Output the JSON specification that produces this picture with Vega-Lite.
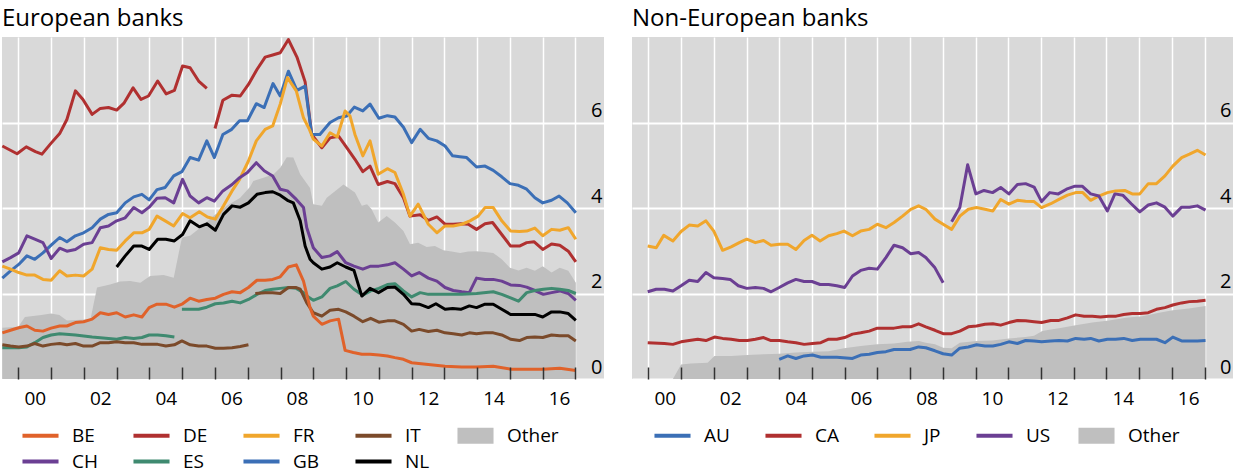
{
  "$schema": "https://vega.github.io/schema/vega-lite/v6.json",
  "padding": {"left": 0, "top": 7, "right": 0, "bottom": 0},
  "background": "white",
  "datasets": {
    "eu": [
      {"bank":"Other","part":"Other","year":1999.51,"value":1.2},{"bank":"Other","part":"Other","year":2000.0,"value":1.22},{"bank":"Other","part":"Other","year":2000.2,"value":1.45},{"bank":"Other","part":"Other","year":2000.7,"value":1.5},{"bank":"Other","part":"Other","year":2001.0,"value":1.53},{"bank":"Other","part":"Other","year":2001.25,"value":1.5},{"bank":"Other","part":"Other","year":2001.48,"value":1.37},{"bank":"Other","part":"Other","year":2002.2,"value":1.4},{"bank":"Other","part":"Other","year":2002.4,"value":2.14},{"bank":"Other","part":"Other","year":2002.8,"value":2.21},{"bank":"Other","part":"Other","year":2003.1,"value":2.28},{"bank":"Other","part":"Other","year":2003.41,"value":2.29},{"bank":"Other","part":"Other","year":2003.72,"value":2.25},{"bank":"Other","part":"Other","year":2004.02,"value":2.41},{"bank":"Other","part":"Other","year":2004.43,"value":2.43},{"bank":"Other","part":"Other","year":2004.74,"value":2.37},{"bank":"Other","part":"Other","year":2004.99,"value":3.31},{"bank":"Other","part":"Other","year":2005.24,"value":3.35},{"bank":"Other","part":"Other","year":2005.55,"value":3.54},{"bank":"Other","part":"Other","year":2005.95,"value":3.81},{"bank":"Other","part":"Other","year":2006.36,"value":4.05},{"bank":"Other","part":"Other","year":2006.77,"value":4.24},{"bank":"Other","part":"Other","year":2007.07,"value":4.5},{"bank":"Other","part":"Other","year":2007.17,"value":4.63},{"bank":"Other","part":"Other","year":2007.48,"value":4.71},{"bank":"Other","part":"Other","year":2007.79,"value":4.79},{"bank":"Other","part":"Other","year":2007.99,"value":4.94},{"bank":"Other","part":"Other","year":2008.19,"value":5.19},{"bank":"Other","part":"Other","year":2008.39,"value":5.18},{"bank":"Other","part":"Other","year":2008.6,"value":4.79},{"bank":"Other","part":"Other","year":2008.9,"value":4.47},{"bank":"Other","part":"Other","year":2009.0,"value":4.09},{"bank":"Other","part":"Other","year":2009.26,"value":4.05},{"bank":"Other","part":"Other","year":2009.41,"value":4.24},{"bank":"Other","part":"Other","year":2009.92,"value":4.55},{"bank":"Other","part":"Other","year":2010.27,"value":4.36},{"bank":"Other","part":"Other","year":2010.48,"value":4.05},{"bank":"Other","part":"Other","year":2010.64,"value":4.09},{"bank":"Other","part":"Other","year":2010.78,"value":3.97},{"bank":"Other","part":"Other","year":2010.98,"value":3.66},{"bank":"Other","part":"Other","year":2011.24,"value":3.81},{"bank":"Other","part":"Other","year":2011.49,"value":3.66},{"bank":"Other","part":"Other","year":2011.75,"value":3.46},{"bank":"Other","part":"Other","year":2011.95,"value":3.15},{"bank":"Other","part":"Other","year":2012.2,"value":3.19},{"bank":"Other","part":"Other","year":2012.46,"value":3.09},{"bank":"Other","part":"Other","year":2012.71,"value":3.11},{"bank":"Other","part":"Other","year":2012.97,"value":3.01},{"bank":"Other","part":"Other","year":2013.22,"value":2.98},{"bank":"Other","part":"Other","year":2013.48,"value":2.95},{"bank":"Other","part":"Other","year":2013.73,"value":2.98},{"bank":"Other","part":"Other","year":2013.98,"value":2.99},{"bank":"Other","part":"Other","year":2014.24,"value":2.97},{"bank":"Other","part":"Other","year":2014.49,"value":2.95},{"bank":"Other","part":"Other","year":2014.75,"value":2.8},{"bank":"Other","part":"Other","year":2015.0,"value":2.6},{"bank":"Other","part":"Other","year":2015.26,"value":2.54},{"bank":"Other","part":"Other","year":2015.51,"value":2.6},{"bank":"Other","part":"Other","year":2015.76,"value":2.53},{"bank":"Other","part":"Other","year":2016.0,"value":2.64},{"bank":"Other","part":"Other","year":2016.27,"value":2.49},{"bank":"Other","part":"Other","year":2016.52,"value":2.6},{"bank":"Other","part":"Other","year":2016.78,"value":2.53},{"bank":"Other","part":"Other","year":2017.01,"value":2.25},

      {"bank":"DE","part":"DE1","year":1999.51,"value":5.45},{"bank":"DE","part":"DE1","year":1999.96,"value":5.27},{"bank":"DE","part":"DE1","year":2000.24,"value":5.43},{"bank":"DE","part":"DE1","year":2000.52,"value":5.32},{"bank":"DE","part":"DE1","year":2000.72,"value":5.26},{"bank":"DE","part":"DE1","year":2000.98,"value":5.5},{"bank":"DE","part":"DE1","year":2001.26,"value":5.74},{"bank":"DE","part":"DE1","year":2001.48,"value":6.07},{"bank":"DE","part":"DE1","year":2001.74,"value":6.74},{"bank":"DE","part":"DE1","year":2001.97,"value":6.54},{"bank":"DE","part":"DE1","year":2002.25,"value":6.19},{"bank":"DE","part":"DE1","year":2002.5,"value":6.33},{"bank":"DE","part":"DE1","year":2002.75,"value":6.35},{"bank":"DE","part":"DE1","year":2003.0,"value":6.29},{"bank":"DE","part":"DE1","year":2003.23,"value":6.46},{"bank":"DE","part":"DE1","year":2003.5,"value":6.81},{"bank":"DE","part":"DE1","year":2003.74,"value":6.54},{"bank":"DE","part":"DE1","year":2003.97,"value":6.62},{"bank":"DE","part":"DE1","year":2004.25,"value":6.97},{"bank":"DE","part":"DE1","year":2004.51,"value":6.67},{"bank":"DE","part":"DE1","year":2004.76,"value":6.75},{"bank":"DE","part":"DE1","year":2005.01,"value":7.32},{"bank":"DE","part":"DE1","year":2005.24,"value":7.28},{"bank":"DE","part":"DE1","year":2005.5,"value":6.97},{"bank":"DE","part":"DE1","year":2005.75,"value":6.8},
      {"bank":"DE","part":"DE2","year":2006.0,"value":5.86},{"bank":"DE","part":"DE2","year":2006.24,"value":6.52},{"bank":"DE","part":"DE2","year":2006.52,"value":6.64},{"bank":"DE","part":"DE2","year":2006.77,"value":6.62},{"bank":"DE","part":"DE2","year":2007.02,"value":6.89},{"bank":"DE","part":"DE2","year":2007.28,"value":7.24},{"bank":"DE","part":"DE2","year":2007.53,"value":7.53},{"bank":"DE","part":"DE2","year":2007.76,"value":7.58},{"bank":"DE","part":"DE2","year":2007.99,"value":7.63},{"bank":"DE","part":"DE2","year":2008.24,"value":7.94},{"bank":"DE","part":"DE2","year":2008.5,"value":7.53},{"bank":"DE","part":"DE2","year":2008.75,"value":6.95},{"bank":"DE","part":"DE2","year":2008.95,"value":5.72},{"bank":"DE","part":"DE2","year":2009.26,"value":5.41},{"bank":"DE","part":"DE2","year":2009.51,"value":5.64},{"bank":"DE","part":"DE2","year":2009.77,"value":5.68},{"bank":"DE","part":"DE2","year":2010.02,"value":5.41},{"bank":"DE","part":"DE2","year":2010.27,"value":5.14},{"bank":"DE","part":"DE2","year":2010.51,"value":4.85},{"bank":"DE","part":"DE2","year":2010.73,"value":4.98},{"bank":"DE","part":"DE2","year":2010.98,"value":4.55},{"bank":"DE","part":"DE2","year":2011.26,"value":4.62},{"bank":"DE","part":"DE2","year":2011.49,"value":4.57},{"bank":"DE","part":"DE2","year":2011.75,"value":4.24},{"bank":"DE","part":"DE2","year":2011.95,"value":3.81},{"bank":"DE","part":"DE2","year":2012.26,"value":3.84},{"bank":"DE","part":"DE2","year":2012.51,"value":3.71},{"bank":"DE","part":"DE2","year":2012.77,"value":3.79},{"bank":"DE","part":"DE2","year":2013.02,"value":3.62},{"bank":"DE","part":"DE2","year":2013.27,"value":3.62},{"bank":"DE","part":"DE2","year":2013.5,"value":3.63},{"bank":"DE","part":"DE2","year":2013.73,"value":3.62},{"bank":"DE","part":"DE2","year":2013.98,"value":3.5},{"bank":"DE","part":"DE2","year":2014.24,"value":3.63},{"bank":"DE","part":"DE2","year":2014.47,"value":3.66},{"bank":"DE","part":"DE2","year":2014.75,"value":3.38},{"bank":"DE","part":"DE2","year":2015.02,"value":3.11},{"bank":"DE","part":"DE2","year":2015.29,"value":3.11},{"bank":"DE","part":"DE2","year":2015.51,"value":3.19},{"bank":"DE","part":"DE2","year":2015.74,"value":3.21},{"bank":"DE","part":"DE2","year":2016.0,"value":3.03},{"bank":"DE","part":"DE2","year":2016.27,"value":3.16},{"bank":"DE","part":"DE2","year":2016.52,"value":3.13},{"bank":"DE","part":"DE2","year":2016.78,"value":2.99},{"bank":"DE","part":"DE2","year":2017.01,"value":2.74},

      {"bank":"GB","part":"GB","year":1999.51,"value":2.36},{"bank":"GB","part":"GB","year":1999.76,"value":2.53},{"bank":"GB","part":"GB","year":2000.01,"value":2.68},{"bank":"GB","part":"GB","year":2000.26,"value":2.88},{"bank":"GB","part":"GB","year":2000.5,"value":2.8},{"bank":"GB","part":"GB","year":2000.75,"value":2.95},{"bank":"GB","part":"GB","year":2001.0,"value":3.13},{"bank":"GB","part":"GB","year":2001.26,"value":3.31},{"bank":"GB","part":"GB","year":2001.48,"value":3.21},{"bank":"GB","part":"GB","year":2001.74,"value":3.35},{"bank":"GB","part":"GB","year":2001.99,"value":3.42},{"bank":"GB","part":"GB","year":2002.25,"value":3.54},{"bank":"GB","part":"GB","year":2002.5,"value":3.74},{"bank":"GB","part":"GB","year":2002.75,"value":3.85},{"bank":"GB","part":"GB","year":2003.0,"value":3.89},{"bank":"GB","part":"GB","year":2003.26,"value":4.12},{"bank":"GB","part":"GB","year":2003.52,"value":4.26},{"bank":"GB","part":"GB","year":2003.77,"value":4.32},{"bank":"GB","part":"GB","year":2003.99,"value":4.19},{"bank":"GB","part":"GB","year":2004.23,"value":4.43},{"bank":"GB","part":"GB","year":2004.48,"value":4.48},{"bank":"GB","part":"GB","year":2004.74,"value":4.75},{"bank":"GB","part":"GB","year":2004.99,"value":4.85},{"bank":"GB","part":"GB","year":2005.24,"value":5.18},{"bank":"GB","part":"GB","year":2005.5,"value":5.12},{"bank":"GB","part":"GB","year":2005.75,"value":5.57},{"bank":"GB","part":"GB","year":2005.98,"value":5.18},{"bank":"GB","part":"GB","year":2006.24,"value":5.72},{"bank":"GB","part":"GB","year":2006.51,"value":5.84},{"bank":"GB","part":"GB","year":2006.75,"value":6.04},{"bank":"GB","part":"GB","year":2006.99,"value":6.04},{"bank":"GB","part":"GB","year":2007.26,"value":6.44},{"bank":"GB","part":"GB","year":2007.5,"value":6.35},{"bank":"GB","part":"GB","year":2007.77,"value":6.91},{"bank":"GB","part":"GB","year":2007.99,"value":6.62},{"bank":"GB","part":"GB","year":2008.24,"value":7.2},{"bank":"GB","part":"GB","year":2008.5,"value":6.75},{"bank":"GB","part":"GB","year":2008.75,"value":6.85},{"bank":"GB","part":"GB","year":2008.95,"value":5.72},{"bank":"GB","part":"GB","year":2009.2,"value":5.72},{"bank":"GB","part":"GB","year":2009.51,"value":6.0},{"bank":"GB","part":"GB","year":2009.77,"value":6.11},{"bank":"GB","part":"GB","year":2010.02,"value":6.15},{"bank":"GB","part":"GB","year":2010.25,"value":6.36},{"bank":"GB","part":"GB","year":2010.51,"value":6.27},{"bank":"GB","part":"GB","year":2010.73,"value":6.43},{"bank":"GB","part":"GB","year":2011.0,"value":6.1},{"bank":"GB","part":"GB","year":2011.26,"value":6.16},{"bank":"GB","part":"GB","year":2011.49,"value":6.13},{"bank":"GB","part":"GB","year":2011.75,"value":5.89},{"bank":"GB","part":"GB","year":2012.0,"value":5.53},{"bank":"GB","part":"GB","year":2012.26,"value":5.84},{"bank":"GB","part":"GB","year":2012.51,"value":5.63},{"bank":"GB","part":"GB","year":2012.77,"value":5.57},{"bank":"GB","part":"GB","year":2013.02,"value":5.45},{"bank":"GB","part":"GB","year":2013.25,"value":5.22},{"bank":"GB","part":"GB","year":2013.47,"value":5.2},{"bank":"GB","part":"GB","year":2013.68,"value":5.18},{"bank":"GB","part":"GB","year":2013.98,"value":4.96},{"bank":"GB","part":"GB","year":2014.24,"value":4.98},{"bank":"GB","part":"GB","year":2014.49,"value":4.88},{"bank":"GB","part":"GB","year":2014.75,"value":4.73},{"bank":"GB","part":"GB","year":2015.0,"value":4.57},{"bank":"GB","part":"GB","year":2015.26,"value":4.53},{"bank":"GB","part":"GB","year":2015.51,"value":4.44},{"bank":"GB","part":"GB","year":2015.76,"value":4.24},{"bank":"GB","part":"GB","year":2016.0,"value":4.12},{"bank":"GB","part":"GB","year":2016.27,"value":4.18},{"bank":"GB","part":"GB","year":2016.5,"value":4.28},{"bank":"GB","part":"GB","year":2016.75,"value":4.12},{"bank":"GB","part":"GB","year":2017.01,"value":3.89},

      {"bank":"FR","part":"FR","year":1999.51,"value":2.64},{"bank":"FR","part":"FR","year":1999.76,"value":2.57},{"bank":"FR","part":"FR","year":2000.01,"value":2.49},{"bank":"FR","part":"FR","year":2000.26,"value":2.43},{"bank":"FR","part":"FR","year":2000.5,"value":2.43},{"bank":"FR","part":"FR","year":2000.75,"value":2.33},{"bank":"FR","part":"FR","year":2001.0,"value":2.31},{"bank":"FR","part":"FR","year":2001.26,"value":2.53},{"bank":"FR","part":"FR","year":2001.48,"value":2.41},{"bank":"FR","part":"FR","year":2001.74,"value":2.43},{"bank":"FR","part":"FR","year":2001.99,"value":2.41},{"bank":"FR","part":"FR","year":2002.25,"value":2.57},{"bank":"FR","part":"FR","year":2002.5,"value":3.07},{"bank":"FR","part":"FR","year":2002.75,"value":3.03},{"bank":"FR","part":"FR","year":2003.0,"value":3.01},{"bank":"FR","part":"FR","year":2003.26,"value":3.23},{"bank":"FR","part":"FR","year":2003.52,"value":3.42},{"bank":"FR","part":"FR","year":2003.77,"value":3.42},{"bank":"FR","part":"FR","year":2003.99,"value":3.5},{"bank":"FR","part":"FR","year":2004.23,"value":3.81},{"bank":"FR","part":"FR","year":2004.48,"value":3.7},{"bank":"FR","part":"FR","year":2004.74,"value":3.58},{"bank":"FR","part":"FR","year":2005.01,"value":3.87},{"bank":"FR","part":"FR","year":2005.24,"value":3.77},{"bank":"FR","part":"FR","year":2005.52,"value":3.91},{"bank":"FR","part":"FR","year":2005.77,"value":3.79},{"bank":"FR","part":"FR","year":2006.01,"value":3.74},{"bank":"FR","part":"FR","year":2006.26,"value":4.05},{"bank":"FR","part":"FR","year":2006.52,"value":4.4},{"bank":"FR","part":"FR","year":2006.75,"value":4.67},{"bank":"FR","part":"FR","year":2007.02,"value":5.1},{"bank":"FR","part":"FR","year":2007.26,"value":5.57},{"bank":"FR","part":"FR","year":2007.53,"value":5.84},{"bank":"FR","part":"FR","year":2007.76,"value":5.92},{"bank":"FR","part":"FR","year":2007.99,"value":6.43},{"bank":"FR","part":"FR","year":2008.21,"value":7.05},{"bank":"FR","part":"FR","year":2008.48,"value":6.74},{"bank":"FR","part":"FR","year":2008.7,"value":6.11},{"bank":"FR","part":"FR","year":2008.88,"value":5.84},{"bank":"FR","part":"FR","year":2009.0,"value":5.61},{"bank":"FR","part":"FR","year":2009.26,"value":5.45},{"bank":"FR","part":"FR","year":2009.51,"value":5.76},{"bank":"FR","part":"FR","year":2009.73,"value":5.66},{"bank":"FR","part":"FR","year":2009.97,"value":6.27},{"bank":"FR","part":"FR","year":2010.12,"value":6.15},{"bank":"FR","part":"FR","year":2010.27,"value":5.72},{"bank":"FR","part":"FR","year":2010.51,"value":5.22},{"bank":"FR","part":"FR","year":2010.73,"value":5.57},{"bank":"FR","part":"FR","year":2010.98,"value":4.79},{"bank":"FR","part":"FR","year":2011.26,"value":4.92},{"bank":"FR","part":"FR","year":2011.49,"value":4.83},{"bank":"FR","part":"FR","year":2011.75,"value":4.32},{"bank":"FR","part":"FR","year":2011.95,"value":3.81},{"bank":"FR","part":"FR","year":2012.2,"value":4.09},{"bank":"FR","part":"FR","year":2012.51,"value":3.62},{"bank":"FR","part":"FR","year":2012.77,"value":3.42},{"bank":"FR","part":"FR","year":2013.02,"value":3.58},{"bank":"FR","part":"FR","year":2013.27,"value":3.58},{"bank":"FR","part":"FR","year":2013.53,"value":3.62},{"bank":"FR","part":"FR","year":2013.78,"value":3.7},{"bank":"FR","part":"FR","year":2014.03,"value":3.81},{"bank":"FR","part":"FR","year":2014.24,"value":4.01},{"bank":"FR","part":"FR","year":2014.49,"value":4.01},{"bank":"FR","part":"FR","year":2014.75,"value":3.7},{"bank":"FR","part":"FR","year":2015.02,"value":3.46},{"bank":"FR","part":"FR","year":2015.29,"value":3.45},{"bank":"FR","part":"FR","year":2015.51,"value":3.46},{"bank":"FR","part":"FR","year":2015.76,"value":3.53},{"bank":"FR","part":"FR","year":2016.0,"value":3.35},{"bank":"FR","part":"FR","year":2016.27,"value":3.5},{"bank":"FR","part":"FR","year":2016.52,"value":3.48},{"bank":"FR","part":"FR","year":2016.78,"value":3.54},{"bank":"FR","part":"FR","year":2017.01,"value":3.27},

      {"bank":"CH","part":"CH","year":1999.51,"value":2.74},{"bank":"CH","part":"CH","year":1999.76,"value":2.84},{"bank":"CH","part":"CH","year":2000.01,"value":2.95},{"bank":"CH","part":"CH","year":2000.26,"value":3.35},{"bank":"CH","part":"CH","year":2000.5,"value":3.27},{"bank":"CH","part":"CH","year":2000.75,"value":3.19},{"bank":"CH","part":"CH","year":2001.0,"value":2.82},{"bank":"CH","part":"CH","year":2001.26,"value":3.06},{"bank":"CH","part":"CH","year":2001.48,"value":2.99},{"bank":"CH","part":"CH","year":2001.74,"value":3.03},{"bank":"CH","part":"CH","year":2001.99,"value":3.15},{"bank":"CH","part":"CH","year":2002.25,"value":3.19},{"bank":"CH","part":"CH","year":2002.5,"value":3.54},{"bank":"CH","part":"CH","year":2002.75,"value":3.58},{"bank":"CH","part":"CH","year":2003.0,"value":3.7},{"bank":"CH","part":"CH","year":2003.26,"value":3.77},{"bank":"CH","part":"CH","year":2003.52,"value":4.01},{"bank":"CH","part":"CH","year":2003.77,"value":3.89},{"bank":"CH","part":"CH","year":2003.99,"value":4.02},{"bank":"CH","part":"CH","year":2004.23,"value":4.23},{"bank":"CH","part":"CH","year":2004.48,"value":4.24},{"bank":"CH","part":"CH","year":2004.74,"value":4.12},{"bank":"CH","part":"CH","year":2005.01,"value":4.67},{"bank":"CH","part":"CH","year":2005.24,"value":4.28},{"bank":"CH","part":"CH","year":2005.5,"value":4.12},{"bank":"CH","part":"CH","year":2005.75,"value":4.24},{"bank":"CH","part":"CH","year":2005.98,"value":4.16},{"bank":"CH","part":"CH","year":2006.24,"value":4.4},{"bank":"CH","part":"CH","year":2006.52,"value":4.55},{"bank":"CH","part":"CH","year":2006.75,"value":4.71},{"bank":"CH","part":"CH","year":2006.99,"value":4.83},{"bank":"CH","part":"CH","year":2007.26,"value":5.06},{"bank":"CH","part":"CH","year":2007.5,"value":4.87},{"bank":"CH","part":"CH","year":2007.76,"value":4.75},{"bank":"CH","part":"CH","year":2007.99,"value":4.44},{"bank":"CH","part":"CH","year":2008.21,"value":4.4},{"bank":"CH","part":"CH","year":2008.48,"value":4.2},{"bank":"CH","part":"CH","year":2008.7,"value":4.01},{"bank":"CH","part":"CH","year":2008.8,"value":3.54},{"bank":"CH","part":"CH","year":2009.0,"value":3.07},{"bank":"CH","part":"CH","year":2009.26,"value":2.84},{"bank":"CH","part":"CH","year":2009.51,"value":2.88},{"bank":"CH","part":"CH","year":2009.73,"value":2.98},{"bank":"CH","part":"CH","year":2009.99,"value":2.72},{"bank":"CH","part":"CH","year":2010.24,"value":2.64},{"bank":"CH","part":"CH","year":2010.51,"value":2.57},{"bank":"CH","part":"CH","year":2010.75,"value":2.64},{"bank":"CH","part":"CH","year":2011.0,"value":2.64},{"bank":"CH","part":"CH","year":2011.26,"value":2.67},{"bank":"CH","part":"CH","year":2011.49,"value":2.72},{"bank":"CH","part":"CH","year":2011.75,"value":2.57},{"bank":"CH","part":"CH","year":2012.0,"value":2.41},{"bank":"CH","part":"CH","year":2012.23,"value":2.49},{"bank":"CH","part":"CH","year":2012.51,"value":2.36},{"bank":"CH","part":"CH","year":2012.77,"value":2.29},{"bank":"CH","part":"CH","year":2013.02,"value":2.14},{"bank":"CH","part":"CH","year":2013.27,"value":2.07},{"bank":"CH","part":"CH","year":2013.53,"value":2.04},{"bank":"CH","part":"CH","year":2013.76,"value":2.02},{"bank":"CH","part":"CH","year":2013.98,"value":2.36},{"bank":"CH","part":"CH","year":2014.24,"value":2.33},{"bank":"CH","part":"CH","year":2014.49,"value":2.33},{"bank":"CH","part":"CH","year":2014.75,"value":2.29},{"bank":"CH","part":"CH","year":2015.02,"value":2.2},{"bank":"CH","part":"CH","year":2015.29,"value":2.19},{"bank":"CH","part":"CH","year":2015.51,"value":2.15},{"bank":"CH","part":"CH","year":2015.76,"value":2.07},{"bank":"CH","part":"CH","year":2016.02,"value":1.98},{"bank":"CH","part":"CH","year":2016.27,"value":2.02},{"bank":"CH","part":"CH","year":2016.52,"value":2.06},{"bank":"CH","part":"CH","year":2016.78,"value":2.0},{"bank":"CH","part":"CH","year":2017.01,"value":1.84},

      {"bank":"ES","part":"ES1","year":1999.51,"value":0.73},{"bank":"ES","part":"ES1","year":2000.01,"value":0.73},{"bank":"ES","part":"ES1","year":2000.26,"value":0.75},{"bank":"ES","part":"ES1","year":2000.5,"value":0.85},{"bank":"ES","part":"ES1","year":2000.75,"value":0.97},{"bank":"ES","part":"ES1","year":2001.0,"value":1.03},{"bank":"ES","part":"ES1","year":2001.26,"value":1.06},{"bank":"ES","part":"ES1","year":2001.74,"value":1.03},{"bank":"ES","part":"ES1","year":2002.25,"value":0.98},{"bank":"ES","part":"ES1","year":2002.75,"value":0.95},{"bank":"ES","part":"ES1","year":2003.0,"value":0.93},{"bank":"ES","part":"ES1","year":2003.26,"value":0.97},{"bank":"ES","part":"ES1","year":2003.52,"value":0.95},{"bank":"ES","part":"ES1","year":2003.77,"value":0.97},{"bank":"ES","part":"ES1","year":2003.99,"value":1.03},{"bank":"ES","part":"ES1","year":2004.25,"value":1.03},{"bank":"ES","part":"ES1","year":2004.5,"value":1.01},{"bank":"ES","part":"ES1","year":2004.76,"value":0.98},
      {"bank":"ES","part":"ES2","year":2004.99,"value":1.63},{"bank":"ES","part":"ES2","year":2005.5,"value":1.63},{"bank":"ES","part":"ES2","year":2005.75,"value":1.68},{"bank":"ES","part":"ES2","year":2006.01,"value":1.76},{"bank":"ES","part":"ES2","year":2006.26,"value":1.78},{"bank":"ES","part":"ES2","year":2006.52,"value":1.82},{"bank":"ES","part":"ES2","year":2006.77,"value":1.78},{"bank":"ES","part":"ES2","year":2007.02,"value":1.86},{"bank":"ES","part":"ES2","year":2007.28,"value":1.98},{"bank":"ES","part":"ES2","year":2007.53,"value":2.07},{"bank":"ES","part":"ES2","year":2007.76,"value":2.1},{"bank":"ES","part":"ES2","year":2007.99,"value":2.12},{"bank":"ES","part":"ES2","year":2008.24,"value":2.14},{"bank":"ES","part":"ES2","year":2008.48,"value":2.12},{"bank":"ES","part":"ES2","year":2008.7,"value":2.02},{"bank":"ES","part":"ES2","year":2008.8,"value":1.94},{"bank":"ES","part":"ES2","year":2009.0,"value":1.84},{"bank":"ES","part":"ES2","year":2009.26,"value":1.92},{"bank":"ES","part":"ES2","year":2009.51,"value":2.12},{"bank":"ES","part":"ES2","year":2009.73,"value":2.18},{"bank":"ES","part":"ES2","year":2009.99,"value":2.28},{"bank":"ES","part":"ES2","year":2010.24,"value":2.1},{"bank":"ES","part":"ES2","year":2010.51,"value":1.96},{"bank":"ES","part":"ES2","year":2010.75,"value":2.06},{"bank":"ES","part":"ES2","year":2011.0,"value":2.12},{"bank":"ES","part":"ES2","year":2011.26,"value":2.21},{"bank":"ES","part":"ES2","year":2011.49,"value":2.23},{"bank":"ES","part":"ES2","year":2011.75,"value":2.06},{"bank":"ES","part":"ES2","year":2012.0,"value":1.92},{"bank":"ES","part":"ES2","year":2012.26,"value":2.02},{"bank":"ES","part":"ES2","year":2012.51,"value":1.98},{"bank":"ES","part":"ES2","year":2013.02,"value":1.98},{"bank":"ES","part":"ES2","year":2013.53,"value":1.98},{"bank":"ES","part":"ES2","year":2013.98,"value":2.0},{"bank":"ES","part":"ES2","year":2014.49,"value":2.04},{"bank":"ES","part":"ES2","year":2014.75,"value":1.98},{"bank":"ES","part":"ES2","year":2015.02,"value":1.9},{"bank":"ES","part":"ES2","year":2015.26,"value":1.82},{"bank":"ES","part":"ES2","year":2015.51,"value":2.02},{"bank":"ES","part":"ES2","year":2015.76,"value":2.07},{"bank":"ES","part":"ES2","year":2016.02,"value":2.1},{"bank":"ES","part":"ES2","year":2016.27,"value":2.12},{"bank":"ES","part":"ES2","year":2016.52,"value":2.1},{"bank":"ES","part":"ES2","year":2016.78,"value":2.07},{"bank":"ES","part":"ES2","year":2017.01,"value":2.0},

      {"bank":"IT","part":"IT1","year":1999.51,"value":0.8},{"bank":"IT","part":"IT1","year":1999.76,"value":0.77},{"bank":"IT","part":"IT1","year":2000.01,"value":0.75},{"bank":"IT","part":"IT1","year":2000.26,"value":0.77},{"bank":"IT","part":"IT1","year":2000.5,"value":0.83},{"bank":"IT","part":"IT1","year":2000.75,"value":0.77},{"bank":"IT","part":"IT1","year":2001.0,"value":0.81},{"bank":"IT","part":"IT1","year":2001.26,"value":0.83},{"bank":"IT","part":"IT1","year":2001.48,"value":0.8},{"bank":"IT","part":"IT1","year":2001.74,"value":0.83},{"bank":"IT","part":"IT1","year":2001.99,"value":0.77},{"bank":"IT","part":"IT1","year":2002.25,"value":0.77},{"bank":"IT","part":"IT1","year":2002.5,"value":0.85},{"bank":"IT","part":"IT1","year":2002.75,"value":0.85},{"bank":"IT","part":"IT1","year":2003.0,"value":0.87},{"bank":"IT","part":"IT1","year":2003.26,"value":0.85},{"bank":"IT","part":"IT1","year":2003.52,"value":0.85},{"bank":"IT","part":"IT1","year":2003.77,"value":0.81},{"bank":"IT","part":"IT1","year":2003.99,"value":0.81},{"bank":"IT","part":"IT1","year":2004.25,"value":0.81},{"bank":"IT","part":"IT1","year":2004.5,"value":0.77},{"bank":"IT","part":"IT1","year":2004.76,"value":0.8},{"bank":"IT","part":"IT1","year":2004.99,"value":0.89},{"bank":"IT","part":"IT1","year":2005.24,"value":0.8},{"bank":"IT","part":"IT1","year":2005.5,"value":0.77},{"bank":"IT","part":"IT1","year":2005.75,"value":0.77},{"bank":"IT","part":"IT1","year":2006.01,"value":0.72},{"bank":"IT","part":"IT1","year":2006.26,"value":0.72},{"bank":"IT","part":"IT1","year":2006.52,"value":0.73},{"bank":"IT","part":"IT1","year":2006.77,"value":0.76},{"bank":"IT","part":"IT1","year":2007.02,"value":0.8},
      {"bank":"IT","part":"IT2","year":2007.23,"value":2.0},{"bank":"IT","part":"IT2","year":2007.53,"value":2.02},{"bank":"IT","part":"IT2","year":2007.76,"value":2.02},{"bank":"IT","part":"IT2","year":2007.99,"value":2.0},{"bank":"IT","part":"IT2","year":2008.24,"value":2.14},{"bank":"IT","part":"IT2","year":2008.48,"value":2.14},{"bank":"IT","part":"IT2","year":2008.6,"value":2.1},{"bank":"IT","part":"IT2","year":2008.8,"value":1.78},{"bank":"IT","part":"IT2","year":2009.0,"value":1.55},{"bank":"IT","part":"IT2","year":2009.26,"value":1.47},{"bank":"IT","part":"IT2","year":2009.51,"value":1.61},{"bank":"IT","part":"IT2","year":2009.77,"value":1.63},{"bank":"IT","part":"IT2","year":2009.99,"value":1.57},{"bank":"IT","part":"IT2","year":2010.24,"value":1.47},{"bank":"IT","part":"IT2","year":2010.51,"value":1.34},{"bank":"IT","part":"IT2","year":2010.75,"value":1.42},{"bank":"IT","part":"IT2","year":2011.0,"value":1.33},{"bank":"IT","part":"IT2","year":2011.26,"value":1.36},{"bank":"IT","part":"IT2","year":2011.49,"value":1.36},{"bank":"IT","part":"IT2","year":2011.75,"value":1.28},{"bank":"IT","part":"IT2","year":2012.0,"value":1.12},{"bank":"IT","part":"IT2","year":2012.23,"value":1.16},{"bank":"IT","part":"IT2","year":2012.51,"value":1.11},{"bank":"IT","part":"IT2","year":2012.77,"value":1.14},{"bank":"IT","part":"IT2","year":2013.02,"value":1.08},{"bank":"IT","part":"IT2","year":2013.27,"value":1.06},{"bank":"IT","part":"IT2","year":2013.53,"value":1.03},{"bank":"IT","part":"IT2","year":2013.76,"value":1.08},{"bank":"IT","part":"IT2","year":2013.98,"value":1.06},{"bank":"IT","part":"IT2","year":2014.24,"value":1.08},{"bank":"IT","part":"IT2","year":2014.49,"value":1.08},{"bank":"IT","part":"IT2","year":2014.75,"value":1.03},{"bank":"IT","part":"IT2","year":2015.02,"value":0.93},{"bank":"IT","part":"IT2","year":2015.29,"value":0.9},{"bank":"IT","part":"IT2","year":2015.51,"value":0.97},{"bank":"IT","part":"IT2","year":2015.76,"value":0.98},{"bank":"IT","part":"IT2","year":2016.0,"value":0.97},{"bank":"IT","part":"IT2","year":2016.27,"value":1.03},{"bank":"IT","part":"IT2","year":2016.52,"value":1.01},{"bank":"IT","part":"IT2","year":2016.78,"value":1.01},{"bank":"IT","part":"IT2","year":2017.01,"value":0.89},

      {"bank":"BE","part":"BE","year":1999.51,"value":1.08},{"bank":"BE","part":"BE","year":1999.76,"value":1.14},{"bank":"BE","part":"BE","year":2000.01,"value":1.2},{"bank":"BE","part":"BE","year":2000.26,"value":1.24},{"bank":"BE","part":"BE","year":2000.5,"value":1.14},{"bank":"BE","part":"BE","year":2000.75,"value":1.12},{"bank":"BE","part":"BE","year":2001.0,"value":1.19},{"bank":"BE","part":"BE","year":2001.26,"value":1.24},{"bank":"BE","part":"BE","year":2001.48,"value":1.24},{"bank":"BE","part":"BE","year":2001.74,"value":1.32},{"bank":"BE","part":"BE","year":2001.99,"value":1.34},{"bank":"BE","part":"BE","year":2002.25,"value":1.4},{"bank":"BE","part":"BE","year":2002.5,"value":1.55},{"bank":"BE","part":"BE","year":2002.75,"value":1.51},{"bank":"BE","part":"BE","year":2003.0,"value":1.55},{"bank":"BE","part":"BE","year":2003.26,"value":1.45},{"bank":"BE","part":"BE","year":2003.52,"value":1.5},{"bank":"BE","part":"BE","year":2003.77,"value":1.45},{"bank":"BE","part":"BE","year":2003.99,"value":1.67},{"bank":"BE","part":"BE","year":2004.23,"value":1.75},{"bank":"BE","part":"BE","year":2004.5,"value":1.75},{"bank":"BE","part":"BE","year":2004.76,"value":1.68},{"bank":"BE","part":"BE","year":2005.01,"value":1.76},{"bank":"BE","part":"BE","year":2005.24,"value":1.89},{"bank":"BE","part":"BE","year":2005.5,"value":1.82},{"bank":"BE","part":"BE","year":2005.75,"value":1.86},{"bank":"BE","part":"BE","year":2006.01,"value":1.89},{"bank":"BE","part":"BE","year":2006.26,"value":1.98},{"bank":"BE","part":"BE","year":2006.52,"value":2.04},{"bank":"BE","part":"BE","year":2006.77,"value":2.02},{"bank":"BE","part":"BE","year":2007.02,"value":2.14},{"bank":"BE","part":"BE","year":2007.28,"value":2.31},{"bank":"BE","part":"BE","year":2007.53,"value":2.31},{"bank":"BE","part":"BE","year":2007.76,"value":2.33},{"bank":"BE","part":"BE","year":2007.99,"value":2.39},{"bank":"BE","part":"BE","year":2008.24,"value":2.62},{"bank":"BE","part":"BE","year":2008.48,"value":2.67},{"bank":"BE","part":"BE","year":2008.7,"value":2.29},{"bank":"BE","part":"BE","year":2008.8,"value":1.98},{"bank":"BE","part":"BE","year":2008.9,"value":1.67},{"bank":"BE","part":"BE","year":2009.0,"value":1.47},{"bank":"BE","part":"BE","year":2009.26,"value":1.28},{"bank":"BE","part":"BE","year":2009.51,"value":1.36},{"bank":"BE","part":"BE","year":2009.77,"value":1.4},{"bank":"BE","part":"BE","year":2009.97,"value":0.67},{"bank":"BE","part":"BE","year":2010.22,"value":0.62},{"bank":"BE","part":"BE","year":2010.48,"value":0.58},{"bank":"BE","part":"BE","year":2010.73,"value":0.58},{"bank":"BE","part":"BE","year":2011.0,"value":0.56},{"bank":"BE","part":"BE","year":2011.26,"value":0.54},{"bank":"BE","part":"BE","year":2011.49,"value":0.5},{"bank":"BE","part":"BE","year":2011.75,"value":0.46},{"bank":"BE","part":"BE","year":2012.0,"value":0.38},{"bank":"BE","part":"BE","year":2012.51,"value":0.34},{"bank":"BE","part":"BE","year":2013.02,"value":0.3},{"bank":"BE","part":"BE","year":2013.53,"value":0.28},{"bank":"BE","part":"BE","year":2013.98,"value":0.28},{"bank":"BE","part":"BE","year":2014.49,"value":0.3},{"bank":"BE","part":"BE","year":2015.02,"value":0.23},{"bank":"BE","part":"BE","year":2015.51,"value":0.23},{"bank":"BE","part":"BE","year":2016.0,"value":0.23},{"bank":"BE","part":"BE","year":2016.52,"value":0.25},{"bank":"BE","part":"BE","year":2017.01,"value":0.2},

      {"bank":"NL","part":"NL","year":2003.0,"value":2.62},{"bank":"NL","part":"NL","year":2003.26,"value":2.88},{"bank":"NL","part":"NL","year":2003.52,"value":3.11},{"bank":"NL","part":"NL","year":2003.77,"value":3.11},{"bank":"NL","part":"NL","year":2003.99,"value":3.03},{"bank":"NL","part":"NL","year":2004.25,"value":3.27},{"bank":"NL","part":"NL","year":2004.5,"value":3.27},{"bank":"NL","part":"NL","year":2004.76,"value":3.23},{"bank":"NL","part":"NL","year":2005.01,"value":3.38},{"bank":"NL","part":"NL","year":2005.24,"value":3.7},{"bank":"NL","part":"NL","year":2005.52,"value":3.56},{"bank":"NL","part":"NL","year":2005.75,"value":3.63},{"bank":"NL","part":"NL","year":2006.01,"value":3.48},{"bank":"NL","part":"NL","year":2006.26,"value":3.85},{"bank":"NL","part":"NL","year":2006.52,"value":4.05},{"bank":"NL","part":"NL","year":2006.77,"value":4.02},{"bank":"NL","part":"NL","year":2007.02,"value":4.12},{"bank":"NL","part":"NL","year":2007.28,"value":4.32},{"bank":"NL","part":"NL","year":2007.53,"value":4.36},{"bank":"NL","part":"NL","year":2007.76,"value":4.38},{"bank":"NL","part":"NL","year":2007.99,"value":4.3},{"bank":"NL","part":"NL","year":2008.21,"value":4.18},{"bank":"NL","part":"NL","year":2008.39,"value":4.12},{"bank":"NL","part":"NL","year":2008.6,"value":3.7},{"bank":"NL","part":"NL","year":2008.75,"value":3.11},{"bank":"NL","part":"NL","year":2008.9,"value":2.8},{"bank":"NL","part":"NL","year":2009.0,"value":2.72},{"bank":"NL","part":"NL","year":2009.26,"value":2.57},{"bank":"NL","part":"NL","year":2009.51,"value":2.62},{"bank":"NL","part":"NL","year":2009.73,"value":2.72},{"bank":"NL","part":"NL","year":2009.99,"value":2.62},{"bank":"NL","part":"NL","year":2010.24,"value":2.54},{"bank":"NL","part":"NL","year":2010.48,"value":1.94},{"bank":"NL","part":"NL","year":2010.73,"value":2.12},{"bank":"NL","part":"NL","year":2010.99,"value":2.02},{"bank":"NL","part":"NL","year":2011.26,"value":2.14},{"bank":"NL","part":"NL","year":2011.49,"value":2.15},{"bank":"NL","part":"NL","year":2011.75,"value":1.98},{"bank":"NL","part":"NL","year":2012.0,"value":1.76},{"bank":"NL","part":"NL","year":2012.23,"value":1.75},{"bank":"NL","part":"NL","year":2012.51,"value":1.67},{"bank":"NL","part":"NL","year":2012.74,"value":1.76},{"bank":"NL","part":"NL","year":2013.02,"value":1.63},{"bank":"NL","part":"NL","year":2013.25,"value":1.65},{"bank":"NL","part":"NL","year":2013.5,"value":1.63},{"bank":"NL","part":"NL","year":2013.76,"value":1.71},{"bank":"NL","part":"NL","year":2013.98,"value":1.67},{"bank":"NL","part":"NL","year":2014.24,"value":1.75},{"bank":"NL","part":"NL","year":2014.49,"value":1.75},{"bank":"NL","part":"NL","year":2014.75,"value":1.63},{"bank":"NL","part":"NL","year":2015.02,"value":1.51},{"bank":"NL","part":"NL","year":2015.26,"value":1.51},{"bank":"NL","part":"NL","year":2015.51,"value":1.51},{"bank":"NL","part":"NL","year":2015.76,"value":1.51},{"bank":"NL","part":"NL","year":2016.0,"value":1.45},{"bank":"NL","part":"NL","year":2016.27,"value":1.57},{"bank":"NL","part":"NL","year":2016.52,"value":1.57},{"bank":"NL","part":"NL","year":2016.78,"value":1.53},{"bank":"NL","part":"NL","year":2017.01,"value":1.37}
    ],
    "noneu": [
      {"bank":"Other","part":"Other","year":2000.75,"value":0},{"bank":"Other","part":"Other","year":2001.0,"value":0.34},{"bank":"Other","part":"Other","year":2001.3,"value":0.36},{"bank":"Other","part":"Other","year":2001.81,"value":0.38},{"bank":"Other","part":"Other","year":2002.02,"value":0.54},{"bank":"Other","part":"Other","year":2002.53,"value":0.54},{"bank":"Other","part":"Other","year":2003.03,"value":0.56},{"bank":"Other","part":"Other","year":2003.54,"value":0.58},{"bank":"Other","part":"Other","year":2004.0,"value":0.59},{"bank":"Other","part":"Other","year":2004.51,"value":0.62},{"bank":"Other","part":"Other","year":2005.02,"value":0.64},{"bank":"Other","part":"Other","year":2005.51,"value":0.65},{"bank":"Other","part":"Other","year":2005.98,"value":0.72},{"bank":"Other","part":"Other","year":2006.49,"value":0.77},{"bank":"Other","part":"Other","year":2007.0,"value":0.81},{"bank":"Other","part":"Other","year":2007.51,"value":0.83},{"bank":"Other","part":"Other","year":2007.92,"value":0.87},{"bank":"Other","part":"Other","year":2008.27,"value":0.89},{"bank":"Other","part":"Other","year":2008.48,"value":0.85},{"bank":"Other","part":"Other","year":2008.76,"value":0.81},{"bank":"Other","part":"Other","year":2009.01,"value":0.73},{"bank":"Other","part":"Other","year":2009.27,"value":0.72},{"bank":"Other","part":"Other","year":2009.52,"value":0.85},{"bank":"Other","part":"Other","year":2010.03,"value":0.89},{"bank":"Other","part":"Other","year":2010.52,"value":0.9},{"bank":"Other","part":"Other","year":2011.02,"value":0.95},{"bank":"Other","part":"Other","year":2011.53,"value":0.98},{"bank":"Other","part":"Other","year":2011.79,"value":1.01},{"bank":"Other","part":"Other","year":2012.04,"value":1.12},{"bank":"Other","part":"Other","year":2012.3,"value":1.16},{"bank":"Other","part":"Other","year":2012.55,"value":1.19},{"bank":"Other","part":"Other","year":2013.06,"value":1.26},{"bank":"Other","part":"Other","year":2013.57,"value":1.32},{"bank":"Other","part":"Other","year":2014.08,"value":1.37},{"bank":"Other","part":"Other","year":2014.59,"value":1.43},{"bank":"Other","part":"Other","year":2015.1,"value":1.47},{"bank":"Other","part":"Other","year":2015.61,"value":1.55},{"bank":"Other","part":"Other","year":2016.03,"value":1.61},{"bank":"Other","part":"Other","year":2016.52,"value":1.65},{"bank":"Other","part":"Other","year":2017.03,"value":1.71},

      {"bank":"CA","part":"CA","year":1999.98,"value":0.85},{"bank":"CA","part":"CA","year":2000.49,"value":0.83},{"bank":"CA","part":"CA","year":2000.75,"value":0.81},{"bank":"CA","part":"CA","year":2001.0,"value":0.87},{"bank":"CA","part":"CA","year":2001.25,"value":0.9},{"bank":"CA","part":"CA","year":2001.51,"value":0.93},{"bank":"CA","part":"CA","year":2001.76,"value":0.9},{"bank":"CA","part":"CA","year":2002.02,"value":0.98},{"bank":"CA","part":"CA","year":2002.27,"value":0.95},{"bank":"CA","part":"CA","year":2002.53,"value":0.93},{"bank":"CA","part":"CA","year":2002.78,"value":0.9},{"bank":"CA","part":"CA","year":2003.03,"value":0.9},{"bank":"CA","part":"CA","year":2003.27,"value":0.93},{"bank":"CA","part":"CA","year":2003.52,"value":0.97},{"bank":"CA","part":"CA","year":2003.75,"value":0.9},{"bank":"CA","part":"CA","year":2004.0,"value":0.9},{"bank":"CA","part":"CA","year":2004.26,"value":0.87},{"bank":"CA","part":"CA","year":2004.51,"value":0.85},{"bank":"CA","part":"CA","year":2004.76,"value":0.81},{"bank":"CA","part":"CA","year":2005.02,"value":0.83},{"bank":"CA","part":"CA","year":2005.27,"value":0.85},{"bank":"CA","part":"CA","year":2005.51,"value":0.93},{"bank":"CA","part":"CA","year":2005.76,"value":0.93},{"bank":"CA","part":"CA","year":2006.0,"value":0.97},{"bank":"CA","part":"CA","year":2006.24,"value":1.05},{"bank":"CA","part":"CA","year":2006.49,"value":1.08},{"bank":"CA","part":"CA","year":2006.75,"value":1.12},{"bank":"CA","part":"CA","year":2007.0,"value":1.19},{"bank":"CA","part":"CA","year":2007.26,"value":1.19},{"bank":"CA","part":"CA","year":2007.51,"value":1.19},{"bank":"CA","part":"CA","year":2007.77,"value":1.22},{"bank":"CA","part":"CA","year":2008.02,"value":1.22},{"bank":"CA","part":"CA","year":2008.26,"value":1.29},{"bank":"CA","part":"CA","year":2008.48,"value":1.22},{"bank":"CA","part":"CA","year":2008.76,"value":1.14},{"bank":"CA","part":"CA","year":2009.01,"value":1.06},{"bank":"CA","part":"CA","year":2009.27,"value":1.06},{"bank":"CA","part":"CA","year":2009.52,"value":1.12},{"bank":"CA","part":"CA","year":2009.78,"value":1.22},{"bank":"CA","part":"CA","year":2010.03,"value":1.24},{"bank":"CA","part":"CA","year":2010.29,"value":1.28},{"bank":"CA","part":"CA","year":2010.53,"value":1.29},{"bank":"CA","part":"CA","year":2010.77,"value":1.26},{"bank":"CA","part":"CA","year":2011.02,"value":1.32},{"bank":"CA","part":"CA","year":2011.28,"value":1.37},{"bank":"CA","part":"CA","year":2011.53,"value":1.36},{"bank":"CA","part":"CA","year":2011.79,"value":1.34},{"bank":"CA","part":"CA","year":2012.02,"value":1.32},{"bank":"CA","part":"CA","year":2012.3,"value":1.37},{"bank":"CA","part":"CA","year":2012.55,"value":1.37},{"bank":"CA","part":"CA","year":2012.81,"value":1.43},{"bank":"CA","part":"CA","year":2013.06,"value":1.5},{"bank":"CA","part":"CA","year":2013.32,"value":1.47},{"bank":"CA","part":"CA","year":2013.57,"value":1.47},{"bank":"CA","part":"CA","year":2013.82,"value":1.45},{"bank":"CA","part":"CA","year":2014.06,"value":1.47},{"bank":"CA","part":"CA","year":2014.3,"value":1.47},{"bank":"CA","part":"CA","year":2014.53,"value":1.51},{"bank":"CA","part":"CA","year":2014.79,"value":1.53},{"bank":"CA","part":"CA","year":2015.04,"value":1.53},{"bank":"CA","part":"CA","year":2015.28,"value":1.55},{"bank":"CA","part":"CA","year":2015.53,"value":1.63},{"bank":"CA","part":"CA","year":2015.79,"value":1.67},{"bank":"CA","part":"CA","year":2016.03,"value":1.73},{"bank":"CA","part":"CA","year":2016.3,"value":1.78},{"bank":"CA","part":"CA","year":2016.54,"value":1.81},{"bank":"CA","part":"CA","year":2016.78,"value":1.82},{"bank":"CA","part":"CA","year":2017.03,"value":1.84},

      {"bank":"AU","part":"AU","year":2004.0,"value":0.46},{"bank":"AU","part":"AU","year":2004.26,"value":0.54},{"bank":"AU","part":"AU","year":2004.51,"value":0.48},{"bank":"AU","part":"AU","year":2004.76,"value":0.54},{"bank":"AU","part":"AU","year":2005.02,"value":0.56},{"bank":"AU","part":"AU","year":2005.27,"value":0.51},{"bank":"AU","part":"AU","year":2005.76,"value":0.51},{"bank":"AU","part":"AU","year":2006.24,"value":0.48},{"bank":"AU","part":"AU","year":2006.49,"value":0.56},{"bank":"AU","part":"AU","year":2006.75,"value":0.58},{"bank":"AU","part":"AU","year":2007.0,"value":0.62},{"bank":"AU","part":"AU","year":2007.26,"value":0.64},{"bank":"AU","part":"AU","year":2007.51,"value":0.69},{"bank":"AU","part":"AU","year":2008.0,"value":0.69},{"bank":"AU","part":"AU","year":2008.26,"value":0.75},{"bank":"AU","part":"AU","year":2008.48,"value":0.73},{"bank":"AU","part":"AU","year":2008.76,"value":0.66},{"bank":"AU","part":"AU","year":2009.01,"value":0.59},{"bank":"AU","part":"AU","year":2009.27,"value":0.56},{"bank":"AU","part":"AU","year":2009.52,"value":0.72},{"bank":"AU","part":"AU","year":2009.78,"value":0.75},{"bank":"AU","part":"AU","year":2010.03,"value":0.8},{"bank":"AU","part":"AU","year":2010.29,"value":0.77},{"bank":"AU","part":"AU","year":2010.53,"value":0.77},{"bank":"AU","part":"AU","year":2010.77,"value":0.81},{"bank":"AU","part":"AU","year":2011.02,"value":0.87},{"bank":"AU","part":"AU","year":2011.28,"value":0.83},{"bank":"AU","part":"AU","year":2011.53,"value":0.9},{"bank":"AU","part":"AU","year":2011.79,"value":0.89},{"bank":"AU","part":"AU","year":2012.02,"value":0.87},{"bank":"AU","part":"AU","year":2012.3,"value":0.89},{"bank":"AU","part":"AU","year":2012.55,"value":0.9},{"bank":"AU","part":"AU","year":2012.81,"value":0.89},{"bank":"AU","part":"AU","year":2013.06,"value":0.95},{"bank":"AU","part":"AU","year":2013.32,"value":0.93},{"bank":"AU","part":"AU","year":2013.52,"value":0.95},{"bank":"AU","part":"AU","year":2013.77,"value":0.89},{"bank":"AU","part":"AU","year":2014.03,"value":0.93},{"bank":"AU","part":"AU","year":2014.28,"value":0.93},{"bank":"AU","part":"AU","year":2014.53,"value":0.95},{"bank":"AU","part":"AU","year":2014.79,"value":0.9},{"bank":"AU","part":"AU","year":2015.04,"value":0.93},{"bank":"AU","part":"AU","year":2015.28,"value":0.93},{"bank":"AU","part":"AU","year":2015.53,"value":0.93},{"bank":"AU","part":"AU","year":2015.79,"value":0.85},{"bank":"AU","part":"AU","year":2016.03,"value":0.98},{"bank":"AU","part":"AU","year":2016.3,"value":0.89},{"bank":"AU","part":"AU","year":2016.54,"value":0.89},{"bank":"AU","part":"AU","year":2016.78,"value":0.89},{"bank":"AU","part":"AU","year":2017.03,"value":0.9},

      {"bank":"JP","part":"JP","year":1999.98,"value":3.11},{"bank":"JP","part":"JP","year":2000.24,"value":3.07},{"bank":"JP","part":"JP","year":2000.47,"value":3.36},{"bank":"JP","part":"JP","year":2000.75,"value":3.23},{"bank":"JP","part":"JP","year":2001.0,"value":3.45},{"bank":"JP","part":"JP","year":2001.25,"value":3.6},{"bank":"JP","part":"JP","year":2001.51,"value":3.58},{"bank":"JP","part":"JP","year":2001.76,"value":3.7},{"bank":"JP","part":"JP","year":2002.0,"value":3.46},{"bank":"JP","part":"JP","year":2002.27,"value":3.01},{"bank":"JP","part":"JP","year":2002.53,"value":3.09},{"bank":"JP","part":"JP","year":2002.78,"value":3.19},{"bank":"JP","part":"JP","year":2003.01,"value":3.27},{"bank":"JP","part":"JP","year":2003.27,"value":3.19},{"bank":"JP","part":"JP","year":2003.52,"value":3.24},{"bank":"JP","part":"JP","year":2003.75,"value":3.13},{"bank":"JP","part":"JP","year":2004.0,"value":3.15},{"bank":"JP","part":"JP","year":2004.26,"value":3.15},{"bank":"JP","part":"JP","year":2004.51,"value":3.03},{"bank":"JP","part":"JP","year":2004.76,"value":3.24},{"bank":"JP","part":"JP","year":2005.0,"value":3.36},{"bank":"JP","part":"JP","year":2005.25,"value":3.23},{"bank":"JP","part":"JP","year":2005.51,"value":3.35},{"bank":"JP","part":"JP","year":2005.76,"value":3.4},{"bank":"JP","part":"JP","year":2005.98,"value":3.46},{"bank":"JP","part":"JP","year":2006.24,"value":3.35},{"bank":"JP","part":"JP","year":2006.49,"value":3.46},{"bank":"JP","part":"JP","year":2006.75,"value":3.5},{"bank":"JP","part":"JP","year":2007.0,"value":3.62},{"bank":"JP","part":"JP","year":2007.26,"value":3.54},{"bank":"JP","part":"JP","year":2007.51,"value":3.66},{"bank":"JP","part":"JP","year":2007.77,"value":3.81},{"bank":"JP","part":"JP","year":2008.02,"value":3.97},{"bank":"JP","part":"JP","year":2008.26,"value":4.05},{"bank":"JP","part":"JP","year":2008.48,"value":3.97},{"bank":"JP","part":"JP","year":2008.76,"value":3.74},{"bank":"JP","part":"JP","year":2009.01,"value":3.62},{"bank":"JP","part":"JP","year":2009.27,"value":3.5},{"bank":"JP","part":"JP","year":2009.52,"value":3.81},{"bank":"JP","part":"JP","year":2009.78,"value":3.97},{"bank":"JP","part":"JP","year":2010.03,"value":4.01},{"bank":"JP","part":"JP","year":2010.29,"value":3.97},{"bank":"JP","part":"JP","year":2010.53,"value":3.93},{"bank":"JP","part":"JP","year":2010.77,"value":4.2},{"bank":"JP","part":"JP","year":2011.02,"value":4.09},{"bank":"JP","part":"JP","year":2011.28,"value":4.18},{"bank":"JP","part":"JP","year":2011.53,"value":4.16},{"bank":"JP","part":"JP","year":2011.79,"value":4.15},{"bank":"JP","part":"JP","year":2012.02,"value":4.01},{"bank":"JP","part":"JP","year":2012.3,"value":4.1},{"bank":"JP","part":"JP","year":2012.55,"value":4.2},{"bank":"JP","part":"JP","year":2012.81,"value":4.3},{"bank":"JP","part":"JP","year":2013.06,"value":4.36},{"bank":"JP","part":"JP","year":2013.28,"value":4.36},{"bank":"JP","part":"JP","year":2013.52,"value":4.18},{"bank":"JP","part":"JP","year":2013.77,"value":4.28},{"bank":"JP","part":"JP","year":2014.03,"value":4.36},{"bank":"JP","part":"JP","year":2014.28,"value":4.4},{"bank":"JP","part":"JP","year":2014.56,"value":4.41},{"bank":"JP","part":"JP","year":2014.79,"value":4.33},{"bank":"JP","part":"JP","year":2015.02,"value":4.33},{"bank":"JP","part":"JP","year":2015.28,"value":4.57},{"bank":"JP","part":"JP","year":2015.53,"value":4.57},{"bank":"JP","part":"JP","year":2015.79,"value":4.75},{"bank":"JP","part":"JP","year":2016.03,"value":4.98},{"bank":"JP","part":"JP","year":2016.3,"value":5.18},{"bank":"JP","part":"JP","year":2016.54,"value":5.26},{"bank":"JP","part":"JP","year":2016.78,"value":5.35},{"bank":"JP","part":"JP","year":2017.03,"value":5.24},

      {"bank":"US","part":"US1","year":1999.98,"value":2.04},{"bank":"US","part":"US1","year":2000.24,"value":2.1},{"bank":"US","part":"US1","year":2000.49,"value":2.1},{"bank":"US","part":"US1","year":2000.75,"value":2.06},{"bank":"US","part":"US1","year":2001.0,"value":2.18},{"bank":"US","part":"US1","year":2001.25,"value":2.31},{"bank":"US","part":"US1","year":2001.51,"value":2.28},{"bank":"US","part":"US1","year":2001.76,"value":2.49},{"bank":"US","part":"US1","year":2002.0,"value":2.37},{"bank":"US","part":"US1","year":2002.27,"value":2.35},{"bank":"US","part":"US1","year":2002.5,"value":2.33},{"bank":"US","part":"US1","year":2002.75,"value":2.18},{"bank":"US","part":"US1","year":2003.01,"value":2.12},{"bank":"US","part":"US1","year":2003.27,"value":2.14},{"bank":"US","part":"US1","year":2003.52,"value":2.12},{"bank":"US","part":"US1","year":2003.75,"value":2.04},{"bank":"US","part":"US1","year":2004.0,"value":2.14},{"bank":"US","part":"US1","year":2004.26,"value":2.25},{"bank":"US","part":"US1","year":2004.51,"value":2.33},{"bank":"US","part":"US1","year":2004.76,"value":2.28},{"bank":"US","part":"US1","year":2005.0,"value":2.28},{"bank":"US","part":"US1","year":2005.25,"value":2.21},{"bank":"US","part":"US1","year":2005.51,"value":2.21},{"bank":"US","part":"US1","year":2005.76,"value":2.18},{"bank":"US","part":"US1","year":2006.0,"value":2.14},{"bank":"US","part":"US1","year":2006.24,"value":2.41},{"bank":"US","part":"US1","year":2006.49,"value":2.54},{"bank":"US","part":"US1","year":2006.75,"value":2.59},{"bank":"US","part":"US1","year":2007.0,"value":2.57},{"bank":"US","part":"US1","year":2007.26,"value":2.84},{"bank":"US","part":"US1","year":2007.51,"value":3.13},{"bank":"US","part":"US1","year":2007.77,"value":3.07},{"bank":"US","part":"US1","year":2008.02,"value":2.93},{"bank":"US","part":"US1","year":2008.26,"value":2.96},{"bank":"US","part":"US1","year":2008.48,"value":2.84},{"bank":"US","part":"US1","year":2008.76,"value":2.6},{"bank":"US","part":"US1","year":2009.01,"value":2.25},
      {"bank":"US","part":"US2","year":2009.27,"value":3.68},{"bank":"US","part":"US2","year":2009.52,"value":4.01},{"bank":"US","part":"US2","year":2009.76,"value":5.01},{"bank":"US","part":"US2","year":2010.01,"value":4.33},{"bank":"US","part":"US2","year":2010.26,"value":4.41},{"bank":"US","part":"US2","year":2010.52,"value":4.36},{"bank":"US","part":"US2","year":2010.77,"value":4.48},{"bank":"US","part":"US2","year":2011.02,"value":4.33},{"bank":"US","part":"US2","year":2011.28,"value":4.55},{"bank":"US","part":"US2","year":2011.53,"value":4.57},{"bank":"US","part":"US2","year":2011.79,"value":4.49},{"bank":"US","part":"US2","year":2012.02,"value":4.15},{"bank":"US","part":"US2","year":2012.27,"value":4.36},{"bank":"US","part":"US2","year":2012.53,"value":4.33},{"bank":"US","part":"US2","year":2012.78,"value":4.44},{"bank":"US","part":"US2","year":2013.04,"value":4.51},{"bank":"US","part":"US2","year":2013.26,"value":4.51},{"bank":"US","part":"US2","year":2013.52,"value":4.33},{"bank":"US","part":"US2","year":2013.77,"value":4.28},{"bank":"US","part":"US2","year":2014.03,"value":3.93},{"bank":"US","part":"US2","year":2014.26,"value":4.33},{"bank":"US","part":"US2","year":2014.5,"value":4.3},{"bank":"US","part":"US2","year":2014.76,"value":4.1},{"bank":"US","part":"US2","year":2015.02,"value":3.91},{"bank":"US","part":"US2","year":2015.28,"value":4.07},{"bank":"US","part":"US2","year":2015.53,"value":4.12},{"bank":"US","part":"US2","year":2015.79,"value":4.02},{"bank":"US","part":"US2","year":2016.03,"value":3.81},{"bank":"US","part":"US2","year":2016.3,"value":4.02},{"bank":"US","part":"US2","year":2016.54,"value":4.02},{"bank":"US","part":"US2","year":2016.78,"value":4.05},{"bank":"US","part":"US2","year":2017.03,"value":3.95}
    ]
  },
  "hconcat": [
    {
      "title": "European banks",
      "width": 602,
      "height": 342,
      "data": {"name": "eu"},
      "encoding": {
        "x": {"field": "year", "type": "quantitative",
          "scale": {"domain": [1999.5, 2017.87], "nice": false, "zero": false}},
        "y": {"field": "value", "type": "quantitative",
          "scale": {"domain": [0, 8], "nice": false},
          "axis": {"title": null, "orient": "right", "domain": false, "ticks": false, "values": [0, 2, 4, 6],
            "grid": true, "gridColor": "#ffffff", "gridWidth": 2, "gridOpacity": 1,
            "labelAlign": "right", "labelBaseline": "alphabetic", "labelPadding": -2, "labelOffset": -6, "labelFontSize": 20}},
        "color": {"field": "bank", "type": "nominal", "title": null,
          "scale": {"domain": ["BE","DE","FR","IT","Other","CH","ES","GB","NL"],
                    "range": ["#e0622a","#b03030","#f0a62c","#7b4a2a","#bfbfbf","#6b3f93","#3f8a70","#3b6fb6","#000000"]},
          "legend": {"orient": "none", "legendX": 29, "legendY": 389, "direction": "horizontal", "columns": 5,
            "symbolType": "stroke", "symbolSize": 1300, "symbolStrokeWidth": 4, "labelOffset": 22, "columnPadding": 27, "rowPadding": 6,
            "encode": {"symbols": {"update": {
              "shape": {"signal": "datum.value === 'Other' ? 'M-1,-0.45H1V0.45H-1Z' : 'stroke'"},
              "fill": {"signal": "datum.value === 'Other' ? '#bfbfbf' : 'transparent'"},
              "strokeWidth": {"signal": "datum.value === 'Other' ? 0 : 4"}}}}}}
      },
      "layer": [
        {"transform": [{"filter": "datum.bank === 'Other'"}], "mark": {"type": "area"},
          "encoding": {"x": {"field": "year", "type": "quantitative",
            "axis": {"orient": "bottom", "title": null, "domain": false, "labels": false, "ticks": false, "zindex": 0,
              "values": [2000,2001,2002,2003,2004,2005,2006,2007,2008,2009,2010,2011,2012,2013,2014,2015,2016,2017],
              "grid": true, "gridColor": "#ffffff", "gridWidth": 1.5, "gridOpacity": 1}}}},
        {"transform": [{"filter": "datum.bank !== 'Other'"}], "mark": {"type": "line", "strokeWidth": 3, "strokeJoin": "round"},
          "encoding": {"detail": {"field": "part"},
            "x": {"field": "year", "type": "quantitative",
              "axis": {"orient": "bottom", "title": null, "domain": false, "grid": false, "zindex": 1,
                "values": [2000,2001,2002,2003,2004,2005,2006,2007,2008,2009,2010,2011,2012,2013,2014,2015,2016,2017],
                "labelExpr": "datum.value % 2 == 0 && datum.value < 2017 ? format(datum.value % 100, '02d') : ''",
                "labelOffset": 16.4, "labelOverlap": false, "labelFlush": false, "labelPadding": 22,
                "ticks": true, "tickSize": -12, "tickColor": "#333333", "tickWidth": 1.5}}}}
      ],
      "resolve": {"axis": {"x": "independent"}}
    },
    {
      "title": "Non-European banks",
      "width": 601,
      "height": 342,
      "data": {"name": "noneu"},
      "encoding": {
        "x": {"field": "year", "type": "quantitative",
          "scale": {"domain": [1999.5, 2017.87], "nice": false, "zero": false}},
        "y": {"field": "value", "type": "quantitative",
          "scale": {"domain": [0, 8], "nice": false},
          "axis": {"title": null, "orient": "right", "domain": false, "ticks": false, "values": [0, 2, 4, 6],
            "grid": true, "gridColor": "#ffffff", "gridWidth": 2, "gridOpacity": 1,
            "labelAlign": "right", "labelBaseline": "alphabetic", "labelPadding": -2, "labelOffset": -6, "labelFontSize": 20}},
        "color": {"field": "bank", "type": "nominal", "title": null,
          "scale": {"domain": ["AU","CA","JP","US","Other"],
                    "range": ["#3b6fb6","#b03030","#f0a62c","#6b3f93","#bfbfbf"]},
          "legend": {"orient": "none", "legendX": 31, "legendY": 389, "direction": "horizontal", "columns": 5,
            "symbolType": "stroke", "symbolSize": 1300, "symbolStrokeWidth": 4, "labelOffset": 22, "columnPadding": 27, "rowPadding": 6,
            "encode": {"symbols": {"update": {
              "shape": {"signal": "datum.value === 'Other' ? 'M-1,-0.45H1V0.45H-1Z' : 'stroke'"},
              "fill": {"signal": "datum.value === 'Other' ? '#bfbfbf' : 'transparent'"},
              "strokeWidth": {"signal": "datum.value === 'Other' ? 0 : 4"}}}}}}
      },
      "layer": [
        {"transform": [{"filter": "datum.bank === 'Other'"}], "mark": {"type": "area"},
          "encoding": {"x": {"field": "year", "type": "quantitative",
            "axis": {"orient": "bottom", "title": null, "domain": false, "labels": false, "ticks": false, "zindex": 0,
              "values": [2000,2001,2002,2003,2004,2005,2006,2007,2008,2009,2010,2011,2012,2013,2014,2015,2016,2017],
              "grid": true, "gridColor": "#ffffff", "gridWidth": 1.5, "gridOpacity": 1}}}},
        {"transform": [{"filter": "datum.bank !== 'Other'"}], "mark": {"type": "line", "strokeWidth": 3, "strokeJoin": "round"},
          "encoding": {"detail": {"field": "part"},
            "x": {"field": "year", "type": "quantitative",
              "axis": {"orient": "bottom", "title": null, "domain": false, "grid": false, "zindex": 1,
                "values": [2000,2001,2002,2003,2004,2005,2006,2007,2008,2009,2010,2011,2012,2013,2014,2015,2016,2017],
                "labelExpr": "datum.value % 2 == 0 && datum.value < 2017 ? format(datum.value % 100, '02d') : ''",
                "labelOffset": 16.4, "labelOverlap": false, "labelFlush": false, "labelPadding": 22,
                "ticks": true, "tickSize": -12, "tickColor": "#333333", "tickWidth": 1.5}}}}
      ],
      "resolve": {"axis": {"x": "independent"}}
    }
  ],
  "spacing": 28,
  "resolve": {"scale": {"color": "independent"}, "legend": {"color": "independent"}},
  "config": {
    "font": "Open Sans",
    "view": {"fill": "#d9d9d9", "stroke": null},
    "title": {"anchor": "start", "frame": "group", "fontSize": 24, "fontWeight": "normal", "color": "#000000", "offset": 6, "font": "Open Sans"},
    "axis": {"labelFont": "Open Sans", "labelFontSize": 19, "labelColor": "#000000"},
    "legend": {"labelFont": "Open Sans", "labelFontSize": 19, "labelColor": "#000000"}
  }
}
